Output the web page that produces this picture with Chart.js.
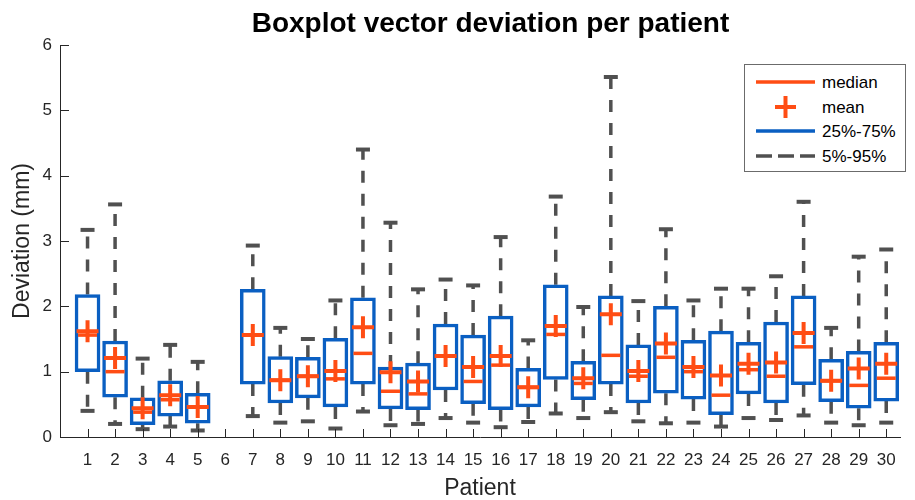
<!DOCTYPE html>
<html>
<head>
<meta charset="utf-8">
<script src="https://cdn.jsdelivr.net/npm/chart.js@4.4.1/dist/chart.umd.min.js"></script>
<style>
  body { margin: 0; background: #fff; }
  #wrap { position: relative; width: 915px; height: 500px; overflow: hidden; }
  #title { position: absolute; left: 90px; width: 801px; top: 7px; text-align: center;
           font: bold 28px 'Liberation Sans', Arial, sans-serif; line-height: 32px; color: #000; }
  #legend { position: absolute; left: 744px; top: 64px; }
  #legend text { font: 17px 'Liberation Sans', Arial, sans-serif; fill: #000; }
</style>
</head>
<body>
<div id="wrap">
  <canvas id="boxChart" width="915" height="500"></canvas>
  <div id="title">Boxplot vector deviation per patient</div>
  <svg id="legend" width="162" height="108">
    <rect x="0.5" y="0.5" width="161" height="107" fill="#fff" stroke="#6b6b6b" stroke-width="1"/>
    <line x1="12" x2="71" y1="18" y2="18" stroke="#FF4D14" stroke-width="3.5"/>
    <text x="78" y="24">median</text>
    <line x1="31" x2="52" y1="43" y2="43" stroke="#FF4D14" stroke-width="4"/>
    <line x1="41.5" x2="41.5" y1="32" y2="54" stroke="#FF4D14" stroke-width="4"/>
    <text x="78" y="49">mean</text>
    <line x1="12" x2="71" y1="67" y2="67" stroke="#0A5FC2" stroke-width="3.5"/>
    <text x="78" y="73">25%-75%</text>
    <line x1="12" x2="71" y1="92" y2="92" stroke="#505050" stroke-width="3.5" stroke-dasharray="16 6"/>
    <text x="78" y="98">5%-95%</text>
  </svg>
</div>
<script>
// values (patient 6 has no data)
const patients = [1, 2, 3, 4, 5, 6, 7, 8, 9, 10, 11, 12, 13, 14, 15, 16, 17, 18, 19, 20, 21, 22, 23, 24, 25, 26, 27, 28, 29, 30];
const p95 = [3.17, 3.56, 1.20, 1.41, 1.15, null, 2.93, 1.67, 1.50, 2.09, 4.40, 3.28, 2.26, 2.41, 2.32, 3.06, 1.48, 3.68, 1.99, 5.51, 2.08, 3.18, 2.09, 2.27, 2.27, 2.46, 3.60, 1.67, 2.76, 2.87];
const q3 = [2.18, 1.47, 0.60, 0.86, 0.67, null, 2.26, 1.23, 1.22, 1.51, 2.13, 1.07, 1.13, 1.73, 1.56, 1.85, 1.05, 2.33, 1.16, 2.16, 1.41, 2.00, 1.48, 1.62, 1.45, 1.76, 2.16, 1.19, 1.31, 1.45];
const medians = [1.56, 1.00, 0.38, 0.57, 0.46, null, 1.56, 0.87, 0.93, 0.89, 1.28, 0.70, 0.66, 1.24, 0.85, 1.10, 0.76, 1.57, 0.82, 1.25, 0.93, 1.22, 1.00, 0.64, 1.03, 0.93, 1.38, 0.86, 0.79, 0.90];
const means = [1.62, 1.21, 0.44, 0.64, 0.46, null, 1.56, 0.87, 0.93, 1.01, 1.68, 0.99, 0.85, 1.24, 1.07, 1.24, 0.76, 1.70, 0.90, 1.88, 1.01, 1.43, 1.07, 0.94, 1.12, 1.14, 1.59, 0.86, 1.05, 1.12];
const q1 = [1.00, 0.61, 0.19, 0.32, 0.21, null, 0.81, 0.52, 0.60, 0.46, 0.81, 0.43, 0.42, 0.72, 0.51, 0.42, 0.46, 0.88, 0.57, 0.81, 0.52, 0.67, 0.58, 0.34, 0.66, 0.52, 0.80, 0.54, 0.44, 0.55];
const p05 = [0.40, 0.20, 0.12, 0.16, 0.10, null, 0.32, 0.22, 0.24, 0.13, 0.39, 0.18, 0.20, 0.29, 0.22, 0.15, 0.23, 0.36, 0.29, 0.38, 0.24, 0.21, 0.22, 0.16, 0.29, 0.26, 0.33, 0.22, 0.18, 0.22];
const yTicks = [0, 1, 2, 3, 4, 5, 6];

const ORANGE = '#FF4D14';
const BLUE = '#0A5FC2';
const GRAY = '#505050';
const AXIS = '#262626';
const FONT = "'Liberation Sans', Arial, sans-serif";

const idx = patients.map((p, i) => i).filter(i => q1[i] !== null);

const boxData = idx.map(i => ({ x: patients[i], y: [q1[i], q3[i]] }));
const whiskerData = [];
idx.forEach(i => {
    const x = patients[i];
    whiskerData.push({ x, y: q3[i] }, { x, y: p95[i] }, { x, y: null });
    whiskerData.push({ x, y: q1[i] }, { x, y: p05[i] }, { x, y: null });
});
const capData = [];
idx.forEach(i => {
    capData.push({ x: patients[i], y: p95[i] }, { x: patients[i], y: p05[i] });
});
const medianData = idx.map(i => ({ x: patients[i], y: medians[i] }));
const meanData = idx.map(i => ({ x: patients[i], y: means[i] }));

// MATLAB style ticks pointing into the plot
const inwardTicks = {
    id: 'inwardTicks',
    afterDatasetsDraw(chart) {
        const { ctx, chartArea, scales } = chart;
        ctx.save();
        ctx.strokeStyle = AXIS;
        ctx.lineWidth = 1;
        ctx.beginPath();
        patients.forEach(p => {
            const x = Math.round(scales.x.getPixelForValue(p)) + 0.5;
            ctx.moveTo(x, chartArea.bottom);
            ctx.lineTo(x, chartArea.bottom - 8);
        });
        yTicks.forEach(v => {
            const y = Math.round(scales.y.getPixelForValue(v)) + 0.5;
            ctx.moveTo(chartArea.left, y);
            ctx.lineTo(chartArea.left + 9, y);
        });
        ctx.stroke();
        ctx.restore();
    }
};

const ctx = document.getElementById('boxChart').getContext('2d');
const chart = new Chart(ctx, {
    type: 'bar',
    data: {
        datasets: [{
            type: 'line',
            label: '5%-95%',
            data: whiskerData,
            borderColor: GRAY,
            borderWidth: 3.5,
            borderDash: [12, 11],
            borderCapStyle: 'butt',
            pointRadius: 0,
            spanGaps: false,
            order: 5
        }, {
            type: 'line',
            label: 'caps',
            data: capData,
            showLine: false,
            pointStyle: 'line',
            pointRadius: 7,
            pointBorderWidth: 4,
            pointBorderColor: GRAY,
            order: 4
        }, {
            label: '25%-75%',
            data: boxData,
            backgroundColor: '#ffffff',
            borderColor: BLUE,
            borderWidth: 3.5,
            borderSkipped: false,
            barThickness: 25,
            order: 3
        }, {
            type: 'line',
            label: 'median',
            data: medianData,
            showLine: false,
            pointStyle: 'line',
            pointRadius: 9.5,
            pointBorderWidth: 3.5,
            pointBorderColor: ORANGE,
            order: 2
        }, {
            type: 'line',
            label: 'mean',
            data: meanData,
            showLine: false,
            pointStyle: 'cross',
            pointRadius: 11,
            pointBorderWidth: 4,
            pointBorderColor: ORANGE,
            order: 1
        }]
    },
    options: {
        responsive: false,
        animation: false,
        events: [],
        layout: { padding: { top: 45, right: 3, left: 0, bottom: 0 } },
        plugins: {
            legend: { display: false },
            tooltip: { enabled: false },
            title: { display: false }
        },
        scales: {
            x: {
                type: 'linear',
                offset: false,
                min: 0,
                max: 30.5,
                grid: { display: false, drawTicks: false },
                border: { color: AXIS, width: 1 },
                ticks: {
                    stepSize: 1,
                    includeBounds: false,
                    autoSkip: false,
                    maxRotation: 0,
                    padding: 13,
                    color: AXIS,
                    font: { family: FONT, size: 17 },
                    callback: v => (v >= 1 && v <= 30 ? v : '')
                },
                title: {
                    display: true,
                    text: 'Patient',
                    color: AXIS,
                    font: { family: FONT, size: 23, lineHeight: 1 },
                    padding: { top: 0, bottom: 0 }
                },
                afterFit: scale => { scale.height = 63; }
            },
            y: {
                min: 0,
                max: 6,
                grid: { display: false, drawTicks: false },
                border: { color: AXIS, width: 1 },
                ticks: {
                    stepSize: 1,
                    padding: 8,
                    color: AXIS,
                    font: { family: FONT, size: 17 }
                },
                title: {
                    display: true,
                    text: 'Deviation (mm)',
                    color: AXIS,
                    font: { family: FONT, size: 23, lineHeight: 1 },
                    padding: { top: 11, bottom: 11 }
                },
                afterFit: scale => { scale.width = 60; }
            }
        }
    },
    plugins: [inwardTicks]
});
</script>
</body>
</html>
